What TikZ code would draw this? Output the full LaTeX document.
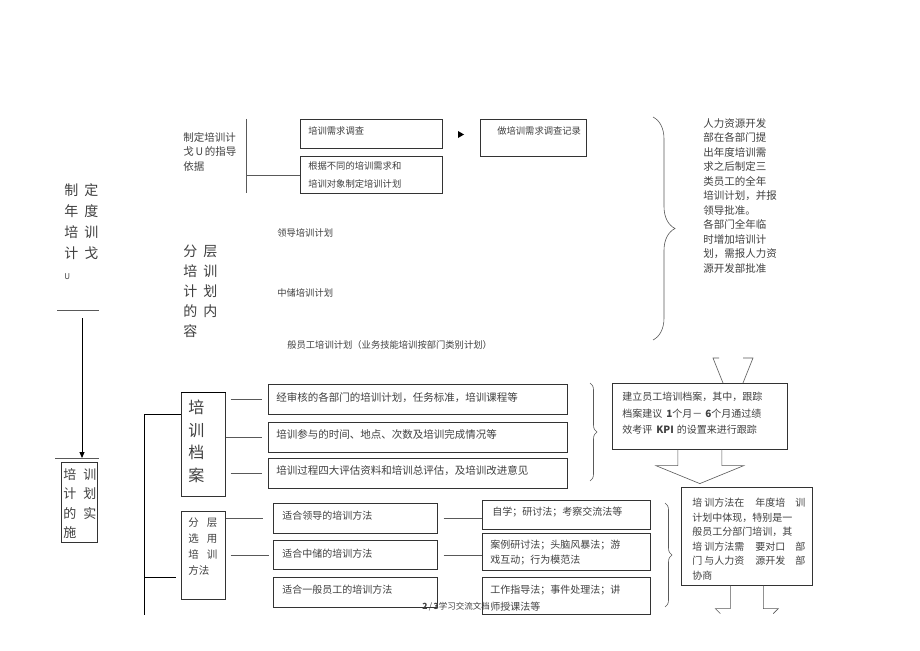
\documentclass[tikz,border=0pt]{standalone}
\usepackage{fontspec}
\setmainfont{Noto Sans CJK SC}
\usepackage{tikz}
\usetikzlibrary{positioning}
\usetikzlibrary{arrows.meta}
\usetikzlibrary{decorations.pathreplacing}
\tikzset{
    box/.style = {draw=black!80, inner sep=0pt, anchor=north west, text=black!75},
    txt/.style = {inner sep=0pt, align=left, text=black!75},
    fsz/.style 2 args = {font={\fontsize{#1}{#2}\selectfont}},
    conn/.style = {draw=black!65},
    bus/.style = {draw=black, line width=0.9pt},
    brc/.style = {draw=black!65, decorate, decoration={brace, amplitude=#1}},
}
% box text: width, height, top pad, left pad, text
\newcommand{\inbox}[5]{\parbox[c][#2pt][t]{#1pt}{\raggedright\leftskip=#4pt\relax\vspace*{#3pt}#5\par}}

\begin{document}
\begin{tikzpicture}[x=1pt, y=-1pt, line width=0.6pt]
\path[fill=white] (0,0) rectangle (920,650);
\useasboundingbox (0,0) rectangle (920,650);
%
% left column
\node[txt, fsz={14}{21}, anchor=north west] (plantitle) at (64,183) {制\hspace{6pt}定\\年\hspace{6pt}度\\培\hspace{6pt}训\\计\hspace{6pt}戈\\{\fontsize{8}{8}\selectfont U}};
\coordinate (rulea) at (57,310);
\coordinate (ruleb) at (99,310);
\draw[conn] (rulea) -- (ruleb);
\node[box, fsz={13}{19.5}] (impl) at (61,462) {\inbox{36}{80}{6}{2}{培\hspace{7pt}训\\计\hspace{7pt}划\\的\hspace{7pt}实\\施}};
\coordinate (downtop) at (82,318);
\draw[bus, -{Triangle[length=6pt,width=5pt]}, shorten >=4pt] (downtop) -- (downtop |- impl.north);
\draw[conn] ([shift={(-6pt,4pt)}]impl.north west) -- ([shift={(1pt,4pt)}]impl.north east);
%
% top section
\node[txt, fsz={10.5}{14.5}, anchor=north west] (guide) at (183,132) {制定培训计\\戈\,U\,的指导\\依据};
\coordinate (gtop) at (246,119);
\coordinate (gbot) at (246,193);
\node[box, fsz={9.3}{14}] (need) at (300,119) {\inbox{142}{29}{7}{8}{培训需求调查}};
\node[box, fsz={9.3}{18}] (plan) at (300,156) {\inbox{142}{37}{5}{8}{根据不同的培训需求和\\培训对象制定培训计划}};
\node[box, fsz={9.3}{14}] (record) at (480,119) {\inbox{106}{37}{7}{17}{做培训需求调查记录}};
\draw[conn] (gtop) -- (gbot);
\draw[conn] (gtop |- plan.west) -- (plan.west);
\fill[black] (458,131) -- (464,134.5) -- (458,138) -- cycle;
%
\node[txt, fsz={9.3}{14}, anchor=west] (leadplan) at (277,233) {领导培训计划};
\node[txt, fsz={9.3}{14}, anchor=west] (midplan) at (277,293) {中储培训计划};
\node[txt, fsz={9.3}{14}, anchor=west] (staffplan) at (287,345) {般员工培训计划（业务技能培训按部门类别计划）};
\node[txt, fsz={14}{20}, anchor=north west] (layer) at (183,245) {分\hspace{6pt}层\\培\hspace{6pt}训\\计\hspace{6pt}划\\的\hspace{6pt}内\\容};
%
\draw[brc=22pt] (653,117) -- (653,340);
\node[txt, fsz={10.5}{14.5}, anchor=north west] (note) at (703,118) {人力资源开发\\部在各部门提\\出年度培训需\\求之后制定三\\类员工的全年\\培训计划，并报\\领导批准。\\各部门全年临\\时增加培训计\\划，需报人力资\\源开发部批准};
%
% bottom section
\node[box, fsz={16}{22.5}] (arch) at (181,392) {\inbox{44}{104}{8}{7}{培\\训\\档\\案}};
\draw[thick] (arch.north west) -- (arch.north east);
\node[box, fsz={10.5}{16}] (meth) at (181,511) {\inbox{44}{88}{7}{7}{分\hspace{8pt}层\\选\hspace{8pt}用\\培\hspace{8pt}训\\方法}};
\coordinate (bustop) at (144,414);
\coordinate (busmid) at (144,577);
\coordinate (busbot) at (144,615);
\draw[bus] (bustop) -- (busbot);
\draw[bus] (bustop) -- (bustop -| arch.west);
\draw[bus] (busmid) -- ([xshift=-5pt]busmid -| meth.west);
%
\node[box, fsz={10.5}{14}] (recA) at (268,384) {\inbox{299}{30}{8}{8}{经审核的各部门的培训计划，任务标准，培训课程等}};
\node[box, fsz={10.5}{14}] (recB) at (268,422) {\inbox{299}{30}{7}{8}{培训参与的时间、地点、次数及培训完成情况等}};
\node[box, fsz={10.5}{14}] (recC) at (268,458) {\inbox{299}{30}{7}{8}{培训过程四大评估资料和培训总评估，及培训改进意见}};
\draw[conn] ([xshift=5pt]arch.east |- recA.west) -- ([xshift=-6pt]recA.west);
\draw[conn] (arch.east |- recB.west) -- ([xshift=-6pt]recB.west);
\draw[conn] ([xshift=5pt]arch.east |- recC.west) -- ([xshift=-6pt]recC.west);
\draw[brc=7pt] (590,383) -- (590,481);
%
\node[box, fsz={10}{16.5}] (track) at (612,383) {\inbox{175}{66}{9}{10}{建立员工培训档案，其中，跟踪\\档案建议\hspace{4pt}\textbf{1}个月－\hspace{3pt}\textbf{6}个月通过绩\\效考评\hspace{4pt}\textbf{KPI}\hspace{3pt}的设置来进行跟踪}};
\draw[conn] (719,358) -- (713,358) -- (723,383);
\draw[conn] (743,358) -- (753,358) -- (743,383);
\draw[conn] ([xshift=-22pt]track.south) -- ++(0,16) -- ++(-22,0) -- ++(44,18) -- ++(44,-18) -- ++(-22,0) -- ++(0,-16);
%
\node[box, fsz={10}{14}] (leadm) at (273,503) {\inbox{164}{30}{8}{9}{适合领导的培训方法}};
\node[box, fsz={10}{14}] (midm) at (273,540) {\inbox{164}{29}{9}{9}{适合中储的培训方法}};
\node[box, fsz={10}{14}] (staffm) at (273,577) {\inbox{164}{30}{8}{9}{适合一般员工的培训方法}};
\node[box, fsz={10}{15}] (leadr) at (482,500) {\inbox{168}{29}{7}{10}{自学；研讨法；考察交流法等}};
\node[box, fsz={10}{15}] (midr) at (482,533) {\inbox{168}{37}{7}{8}{案例研讨法；头脑风暴法；游\\戏互动；行为模范法}};
\node[box, fsz={10}{17}] (staffr) at (482,577) {\inbox{168}{37}{8}{8}{工作指导法；事件处理法；讲\\师授课法等}};
\draw[conn] ([xshift=6pt]leadm.east) -- (leadm.east -| leadr.west);
\draw[conn] ([xshift=6pt]midm.east) -- (midm.east -| midr.west);
\draw[conn] (meth.east |- leadm.west) -- ([xshift=-10pt]leadm.west);
\draw[conn] ([xshift=5pt]meth.east |- midm.west) -- ([xshift=-4pt]midm.west);
\draw[brc=7pt] (665,503) -- (665,607);
%
\node[box, fsz={10}{14.5}] (advice) at (681,487) {\inbox{131}{98}{11}{11}{培\hspace{2pt}训方法在\hspace{11pt}年度培\hspace{10pt}训\\计划中体现，特别是一\\般员工分部门培训，其\\培\hspace{2pt}训方法需\hspace{11pt}要对口\hspace{10pt}部\\门\hspace{2pt}与人力资\hspace{11pt}源开发\hspace{10pt}部\\协商}};
\draw[conn] ([xshift=-16.5pt]advice.south) -- ++(0,23) -- ++(-15,0) -- ++(5,5);
\draw[conn] ([xshift=16.5pt]advice.south) -- ++(0,23) -- ++(15,0) -- ++(-5,5);
%
\node[txt, fsz={8.5}{9}, anchor=west] (pagenum) at (422,607) {\textbf{2}\,/\,\textbf{3}学习交流文档};
\end{tikzpicture}
\end{document}
